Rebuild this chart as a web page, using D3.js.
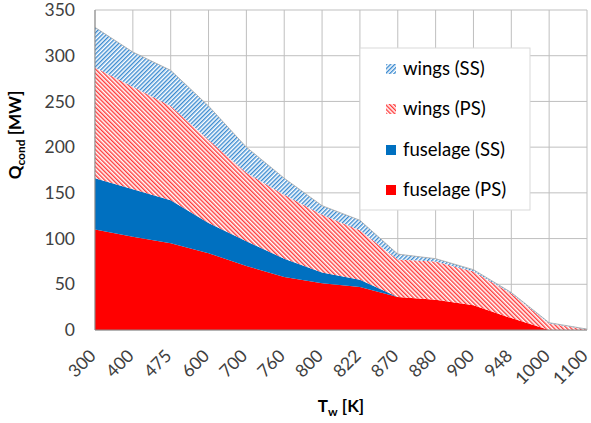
<!DOCTYPE html>
<html><head><meta charset="utf-8">
<script src="https://cdn.jsdelivr.net/npm/d3@7"></script>
<style>body{margin:0;background:#fff;} svg{display:block;font-family:Lato,"Open Sans",sans-serif;}</style>
</head><body>
<svg id="c" width="591" height="423"></svg>
<script>
const categories = ["300","400","475","600","700","760","800","822","870","880","900","948","1000","1100"];
const fuselagePS = [110,102,95,84,70,58,51,47,36,33,27,13,0,0];
const fuselageSS = [56,52,47,33,27,20,12,8,0,0,0,0,0,0];
const wingsPS    = [121,112,103,91,75,70,63,54,41,42,37,27,7,0.5];
const wingsSS    = [44,38,39,37,28,18,10,11,6,3,2,1,1,0.5];
const yTicks = [0,50,100,150,200,250,300,350];
const seriesNames = ["fuselage (PS)","fuselage (SS)","wings (PS)","wings (SS)"];

const svg = d3.select("#c");
const L=95,R=587,T=10,B=330;
const x = d3.scalePoint().domain(categories).range([L,R]);
const y = d3.scaleLinear().domain([0,350]).range([B,T]);

const defs = svg.append("defs");
function hatch(id,color,dir){
  const p = defs.append("pattern").attr("id",id).attr("patternUnits","userSpaceOnUse")
    .attr("width",3).attr("height",3)
    .attr("patternTransform","rotate("+(dir>0?45:-45)+")");
  p.append("rect").attr("width",3).attr("height",3).attr("fill","#fff");
  p.append("rect").attr("width",1.4).attr("height",3).attr("fill",color);
}
hatch("hb","#3a8ad0",1);
hatch("hr","#ff3a3a",-1);

const fills = ["#ff0000","#0070c0","url(#hr)","url(#hb)"];

// grid
const g = svg.append("g");
g.selectAll(".hg").data(yTicks).join("line")
  .attr("x1",L).attr("x2",R).attr("y1",d=>y(d)).attr("y2",d=>y(d))
  .attr("stroke","#bfbfbf").attr("stroke-width",1);
g.selectAll(".vg").data(categories).join("line")
  .attr("x1",d=>x(d)).attr("x2",d=>x(d)).attr("y1",T).attr("y2",B)
  .attr("stroke","#bfbfbf").attr("stroke-width",1);

// stack
const rows = categories.map((c,i)=>({c, s0:fuselagePS[i], s1:fuselageSS[i], s2:wingsPS[i], s3:wingsSS[i]}));
const stack = d3.stack().keys(["s0","s1","s2","s3"]);
const layers = stack(rows);
const area = d3.area().x(d=>x(d.data.c)).y0(d=>y(d[0])).y1(d=>y(d[1]));
svg.append("g").selectAll("path").data(layers).join("path")
  .attr("d",area).attr("fill",(d,i)=>fills[i]);
const topLine = d3.line().x(d=>x(d.data.c)).y(d=>y(d[1]));
svg.append("path").datum(layers[3]).attr("d",topLine).attr("fill","none")
  .attr("stroke","#a6a6a6").attr("stroke-width",0.8);

// axes lines
svg.append("line").attr("x1",L).attr("x2",L).attr("y1",T).attr("y2",B).attr("stroke","#898989");
svg.append("line").attr("x1",L).attr("x2",R).attr("y1",B).attr("y2",B).attr("stroke","#898989");

// y tick labels
svg.append("g").selectAll("text").data(yTicks).join("text")
  .attr("x",75).attr("y",d=>y(d)).attr("dy","0.35em").attr("text-anchor","end")
  .attr("font-size",17.5).attr("fill","#404040").text(d=>d);

// x tick labels
svg.append("g").selectAll("text").data(categories).join("text")
  .attr("transform",d=>`translate(${x(d)+2},357) rotate(-45)`)
  .attr("text-anchor","end").attr("font-size",17.5).attr("fill","#404040").text(d=>d);

// axis titles
const xt = svg.append("text").attr("x",341).attr("y",412).attr("text-anchor","middle")
  .attr("font-size",17).attr("font-weight","bold").attr("fill","#000");
xt.append("tspan").text("T");
xt.append("tspan").attr("font-size",12).attr("dy",4).text("w");
xt.append("tspan").attr("dy",-4).text(" [K]");

const yt = svg.append("text").attr("transform","translate(21,135) rotate(-90)").attr("text-anchor","middle")
  .attr("font-size",17).attr("font-weight","bold").attr("fill","#000");
yt.append("tspan").text("Q");
yt.append("tspan").attr("font-size",12).attr("dy",4).text("cond");
yt.append("tspan").attr("dy",-4).text(" [MW]");

// legend
const lg = svg.append("g");
lg.append("rect").attr("x",360).attr("y",48).attr("width",170).attr("height",162)
  .attr("fill","#fff").attr("stroke","#d9d9d9");
const legOrder = [3,2,1,0];
const legY = [69,109,150,190];
legOrder.forEach((si,k)=>{
  lg.append("rect").attr("x",386).attr("y",legY[k]-5).attr("width",10).attr("height",10).attr("fill",fills[si]);
  lg.append("text").attr("x",403).attr("y",legY[k]).attr("dy","0.35em").attr("font-size",18.5)
    .attr("fill","#000").text(seriesNames[si]);
});
</script>
</body></html>
